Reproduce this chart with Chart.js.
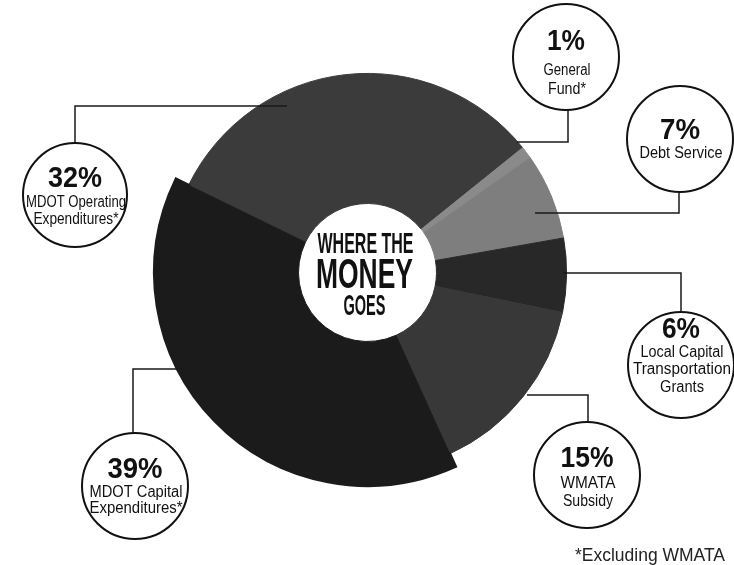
<!DOCTYPE html>
<html>
<head>
<meta charset="utf-8">
<title>Where the Money Goes</title>
<script src="https://cdn.jsdelivr.net/npm/chart.js@4.4.1/dist/chart.umd.min.js"></script>
<style>
    html, body { margin: 0; padding: 0; background: #ffffff; }
    #wrap { width: 734px; height: 565px; }
</style>
</head>
<body>
<div id="wrap"><canvas id="moneyChart" width="734" height="565"></canvas></div>
<script>
// Chart data
const categories = ['MDOT Operating Expenditures*', 'General Fund*', 'Debt Service',
    'Local Capital Transportation Grants', 'WMATA Subsidy', 'MDOT Capital Expenditures*'];
const shares = [32, 1, 7, 6, 15, 39];
const labelLines = [
    ['MDOT Operating', 'Expenditures*'],
    ['General', 'Fund*'],
    ['Debt Service'],
    ['Local Capital', 'Transportation', 'Grants'],
    ['WMATA', 'Subsidy'],
    ['MDOT Capital', 'Expenditures*']
];
const footnote = '*Excluding WMATA';
const centerTitle = ['WHERE THE', 'MONEY', 'GOES'];

// Styling
const sliceColors = ['#3b3b3b', '#8a8a8a', '#7e7e7e', '#282828', '#383838', '#1b1b1b'];
const raised = [false, false, false, false, false, true];
const FONT = '"Liberation Sans Narrow", "Liberation Sans", Arial, sans-serif';

// Callout layout: circle, leader line, and text widths
const callouts = [
    { cx: 75, cy: 195, r: 52, leader: [[75, 143], [75, 106], [287, 106]], valueY: 176, valueW: 54, lines: [[201, 100], [218, 85]] },
    { cx: 566, cy: 57, r: 53, leader: [[568, 110], [568, 142], [517, 142]], valueY: 39, valueW: 38, lines: [[69, 47], [88, 38]] },
    { cx: 680, cy: 139, r: 53, leader: [[679, 192], [679, 213], [535, 213]], valueY: 128, valueW: 40, lines: [[152, 83]] },
    { cx: 681, cy: 365, r: 53, leader: [[681, 312], [681, 273], [563, 273]], valueY: 327, valueW: 38, lines: [[351, 83], [368, 98], [386, 44]] },
    { cx: 587, cy: 475, r: 53, leader: [[588, 422], [588, 395], [527, 395]], valueY: 456, valueW: 53, lines: [[482, 55], [500, 50]] },
    { cx: 135, cy: 486, r: 53, leader: [[133, 433], [133, 369], [182, 369]], valueY: 467, valueW: 55, lines: [[491, 93], [507, 93]] }
];

// Draw text squeezed to a given width (condensed look)
function squeezeText(ctx, text, cx, cy, width, size, bold) {
    ctx.font = `${bold ? 'bold ' : ''}${size}px ${FONT}`;
    const w = ctx.measureText(text).width;
    ctx.save();
    ctx.translate(cx, cy + size * 0.36);
    ctx.scale(width / w, 1);
    ctx.textAlign = 'center';
    ctx.textBaseline = 'alphabetic';
    ctx.fillText(text, 0, 0);
    ctx.restore();
}

const calloutPlugin = {
    id: 'callouts',
    afterDraw(chart) {
        const ctx = chart.ctx;
        const hub = chart.getDatasetMeta(1).data[0];

        ctx.save();
        ctx.fillStyle = '#111111';

        // center title
        squeezeText(ctx, centerTitle[0], hub.x - 2, 243, 96, 29, true);
        squeezeText(ctx, centerTitle[1], hub.x - 3, 273, 97, 42, true);
        squeezeText(ctx, centerTitle[2], hub.x - 3, 304, 42, 30, true);

        // leader lines
        ctx.strokeStyle = '#1a1a1a';
        ctx.lineWidth = 1.5;
        callouts.forEach(c => {
            ctx.beginPath();
            c.leader.forEach((p, i) => i === 0 ? ctx.moveTo(p[0], p[1]) : ctx.lineTo(p[0], p[1]));
            ctx.stroke();
        });

        // label circles
        callouts.forEach((c, i) => {
            ctx.beginPath();
            ctx.arc(c.cx, c.cy, c.r, 0, Math.PI * 2);
            ctx.fillStyle = '#ffffff';
            ctx.fill();
            ctx.lineWidth = 2;
            ctx.strokeStyle = '#111111';
            ctx.stroke();

            ctx.fillStyle = '#111111';
            squeezeText(ctx, `${shares[i]}%`, c.cx, c.valueY, c.valueW, 30, true);
            labelLines[i].forEach((line, j) => {
                squeezeText(ctx, line, c.cx + 1, c.lines[j][0], c.lines[j][1], 16, false);
            });
        });

        // footnote
        ctx.fillStyle = '#222222';
        squeezeText(ctx, footnote, 650, 555, 150, 18, false);
        ctx.restore();
    }
};

const ctxMoney = document.getElementById('moneyChart').getContext('2d');

new Chart(ctxMoney, {
    type: 'doughnut',
    data: {
        labels: categories,
        datasets: [{
            // outer ring: only the raised slice is visible
            data: shares,
            weight: 14,
            backgroundColor: sliceColors.map((c, i) => raised[i] ? c : 'rgba(0,0,0,0)'),
            borderColor: sliceColors.map((c, i) => raised[i] ? c : 'rgba(0,0,0,0)'),
            borderWidth: raised.map(r => r ? 3 : 0),
            borderJoinStyle: 'miter'
        }, {
            data: shares,
            weight: 131,
            backgroundColor: sliceColors,
            borderColor: sliceColors,
            borderWidth: 1,
            borderJoinStyle: 'miter'
        }]
    },
    options: {
        responsive: false,
        animation: false,
        events: [],
        rotation: -64,
        cutout: 69,
        layout: {
            padding: { left: 153, right: 152, top: 57, bottom: 77 }
        },
        plugins: {
            legend: { display: false },
            tooltip: { enabled: false }
        }
    },
    plugins: [calloutPlugin]
});
</script>
</body>
</html>
